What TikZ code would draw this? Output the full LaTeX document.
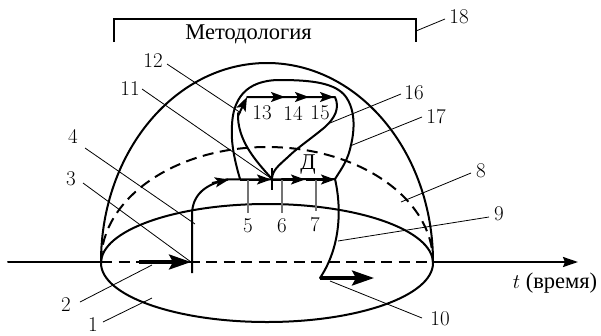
\documentclass[tikz,border=0pt]{standalone}
\usepackage{fontspec}
\usetikzlibrary{arrows.meta}
\newfontfamily\ruserif{Liberation Serif}
\tikzset{
  thickline/.style={line width=2pt,line cap=round,line join=round},
  dashline/.style={line width=2pt,dash pattern=on 11pt off 6.5pt},
  leader/.style={line width=0.8pt},
  graytick/.style={line width=1.1pt,black!55},
  flow/.style={line width=2pt,-{Stealth[length=14pt,width=10pt,inset=3pt]}},
  bigflow/.style={line width=3.2pt,-{Stealth[length=22pt,width=15pt,inset=4pt]}},
  lab/.style={inner sep=0pt,font=\fontsize{21}{21}\selectfont},
  rulab/.style={inner sep=0pt,font=\fontsize{22.5}{22.5}\selectfont\ruserif},
}
\begin{document}
\begin{tikzpicture}[x=1pt,y=-1pt]
\useasboundingbox (0,0) rectangle (601,335);
% named points
\coordinate (L) at (101,262); \coordinate (R) at (433,262);
\coordinate (start) at (8,262); \coordinate (end) at (578,262);
\coordinate (T3) at (191,262); \coordinate (J) at (272,179); \coordinate (E) at (335,179);
% axis
\draw[thickline] (start) -- (L);
\draw[dashline] (L) -- (R);
\draw[line width=2pt,-{Stealth[length=15pt,width=10pt,inset=2pt]}] (R) -- (end);
% ellipse
\draw[thickline] (267,263) ellipse [x radius=166pt,y radius=59pt];
% domes
\draw[thickline] (L) arc [start angle=180,end angle=0,x radius=166pt,y radius=199pt];
\draw[dashline] (L) arc [start angle=180,end angle=0,x radius=166pt,y radius=115pt];
% bracket
\coordinate (BL) at (114,42); \coordinate (BR) at (416,42);
\draw[line width=1.8pt] (BL) -- (114,19) -- (416,19) -- (BR);
\node[rulab] (met) at (248.5,34) {Методология};
% main process
\draw[bigflow] (139,262) -- (T3);
\draw[line width=2pt] (192,273) -- (192,215) .. controls (192,195) and (205,184) .. (228,179.5);
\draw[flow] (212,183) -- (229,179.5);
\draw[thickline] (225,179.5) -- (E);
\draw[flow] (240,179.5) -- (271,179.5);
\draw[flow] (272,179.5) -- (305,179.5);
\draw[flow] (306,179.5) -- (335,179.5);
\draw[line width=2.8pt] (J)++(0,-11) -- ++(0,22);
\draw[graytick] (248,180) -- (248,213);
\draw[graytick] (282,180) -- (282,213);
\draw[graytick] (316,180) -- (316,211);
% outer loop
\draw[thickline] (240,179) .. controls (233,155) and (231,140) .. (232,125) .. controls (233,100) and (245,80) .. (280,80) .. controls (312,80) and (336,83) .. (346,97) .. controls (355,110) and (355,128) .. (351,145) .. controls (348,160) and (342,168) .. (E);
% inner loop
\draw[thickline] (J) .. controls (255,160) and (237,140) .. (238,113);
\draw[flow] (238,116) -- (247,97);
\draw[thickline] (247,97) -- (335,97) .. controls (340,108) and (335,118) .. (325,127) .. controls (312,138) and (297,148) .. (288,157) .. controls (278,166) and (273,170) .. (272,178);
\draw[flow] (247,97) -- (285,97);
\draw[flow] (280,97) -- (309,97);
\draw[flow] (306,97) -- (334,97);
% lower process
\draw[thickline] (E) .. controls (341,205) and (342,245) .. (320,278);
\draw[bigflow] (320,278) -- (374,278);
% labels
\node[lab] (n1) at (93,325) {1};
\node[lab] (n2) at (66,305) {2};
\node[lab] (n3) at (71,179) {3};
\node[lab] (n4) at (73,136) {4};
\node[lab] (n5) at (248,226) {5};
\node[lab] (n6) at (282,226) {6};
\node[lab] (n7) at (315,225) {7};
\node[lab] (n8) at (481,171) {8};
\node[lab] (n9) at (499,214) {9};
\node[lab] (n10) at (440,319) {10};
\node[lab] (n11) at (130,89) {11};
\node[lab] (n12) at (153,61) {12};
\node[lab] (n13) at (262,113) {13};
\node[lab] (n14) at (293,113) {14};
\node[lab] (n15) at (320,113) {15};
\node[lab] (n16) at (414,93) {16};
\node[lab] (n17) at (436,117) {17};
\node[lab] (n18) at (459,17) {18};
\node[rulab] (D) at (308,165) {Д};
\node[rulab] (t) at (555,283) {$t$ (время)};
% leaders
\draw[leader] (103,322) -- (152,298);
\draw[leader] (80,302) -- (152,265);
\draw[leader] (83,183) -- (T3);
\draw[leader] (85,148) -- (195,224);
\draw[leader] (142,89) -- (J);
\draw[leader] (167,64) -- (241,113);
\draw[leader] (401,94) -- (330,123);
\draw[leader] (422,117) -- (350,146);
\draw[leader] (471,173) -- (401,202);
\draw[leader] (489,217) -- (338,241);
\draw[leader] (422,318) -- (330,281);
\draw[leader] (445,19) -- (416,31);
\end{tikzpicture}
\end{document}
